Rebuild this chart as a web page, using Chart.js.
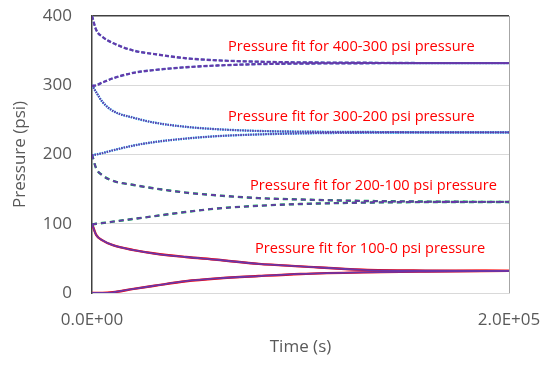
<!DOCTYPE html>
<html>
<head>
<meta charset="utf-8">
<script src="https://cdn.jsdelivr.net/npm/chart.js@4"></script>
<style>
  html, body { margin: 0; padding: 0; background: #fff; }
  #wrap { width: 556px; height: 367px; }
</style>
</head>
<body>
<div id="wrap"><canvas id="myChart"></canvas></div>
<script>
// time axis (s) and pressure curves (psi)
const timeS = [0, 2000, 5000, 10000, 20000, 30000, 45000, 60000, 80000, 100000, 130000, 160000, 200000];
const p400down = [400, 380, 370, 361, 350, 345, 339, 336, 334, 333, 332.5, 332, 332];
const p300up = [299, 300, 304, 310, 318, 322, 326, 328.5, 330.5, 331.3, 331.8, 332, 332];
const p300down = [300, 290, 276, 263, 253, 246, 240, 236.5, 234, 233, 232.5, 232, 232];
const p200up = [199, 200, 202, 206, 213, 218, 223, 226.5, 229, 230.5, 231.5, 232, 232];
const p200down = [200, 180, 170, 162, 156, 151, 145, 141, 137, 135, 133, 132, 131.5];
const p100up = [99, 100, 101, 103, 107, 111, 117, 122, 126, 128.5, 130.5, 131.3, 131.5];
const p100down = [100, 84, 76, 69, 62, 57, 52, 48, 42, 38.5, 33.5, 32.3, 32];
const p0up = [0, 0, 0, 1, 6, 10.5, 17, 21, 24.5, 27.5, 29.8, 31, 32];

const yTicks = [0, 100, 200, 300, 400];
const xTicks = [0, 200000];

// red labels: text, time where text starts, pressure at text middle
const fitLabels = ['Pressure fit for 400-300 psi pressure', 'Pressure fit for 300-200 psi pressure',
                   'Pressure fit for 200-100 psi pressure', 'Pressure fit for 100-0 psi pressure'];
const labelTime = [65200, 65200, 75800, 78200];
const labelPressure = [355, 254, 154.5, 63.5];

const pairs = [
    { curves: [p400down, p300up], color: '#4472C4', dash: [4, 2] },
    { curves: [p300down, p200up], color: '#00B0F0', dash: [1.5, 1] },
    { curves: [p200down, p100up], color: '#00B050', dash: [5, 4] },
    { curves: [p100down, p0up], color: '#FF0000', dash: [] }
];

function pts(arr) {
    return arr.map((v, i) => ({ x: timeS[i], y: v }));
}

var datasets = [];
pairs.forEach(function (p) {
    p.curves.forEach(function (c) {
        // measured (underneath)
        datasets.push({
            data: pts(c), borderColor: p.color, borderWidth: 2.4, borderDash: p.dash,
            pointRadius: 0, cubicInterpolationMode: 'monotone', fill: false, order: 2
        });
        // fit (on top)
        datasets.push({
            data: pts(c), borderColor: '#6A35A8', borderWidth: 1.8, borderDash: p.dash,
            pointRadius: 0, cubicInterpolationMode: 'monotone', fill: false, order: 1
        });
    });
});

function sci(v) {
    if (v === 0) return '0.0E+00';
    var e = Math.floor(Math.log10(Math.abs(v)));
    var m = v / Math.pow(10, e);
    return m.toFixed(1) + 'E' + (e < 0 ? '-' : '+') + String(Math.abs(e)).padStart(2, '0');
}

const labelPlugin = {
    id: 'fitLabels',
    afterDatasetsDraw(chart) {
        const c = chart.ctx;
        const xs = chart.scales.x, ys = chart.scales.y;
        c.save();
        c.font = '14.6px "Open Sans"';
        c.fillStyle = '#FF0000';
        c.textAlign = 'left';
        c.textBaseline = 'middle';
        fitLabels.forEach(function (t, i) {
            c.fillText(t, xs.getPixelForValue(labelTime[i]), ys.getPixelForValue(labelPressure[i]));
        });
        c.restore();
    }
};

var ctx = document.getElementById('myChart').getContext('2d');
var chart = new Chart(ctx, {
    type: 'line',
    data: { datasets: datasets },
    plugins: [labelPlugin],
    options: {
        responsive: true,
        maintainAspectRatio: false,
        animation: false,
        layout: { padding: { left: 0, right: 47, top: 16, bottom: 0 } },
        plugins: { legend: { display: false }, tooltip: { enabled: false } },
        scales: {
            x: {
                type: 'linear',
                min: 0, max: 200000,
                afterBuildTicks(scale) { scale.ticks = xTicks.map(v => ({ value: v })); },
                afterFit(scale) {
                    scale.height = 74;
                    scale.paddingLeft = 0;
                    scale.paddingRight = 0;
                },
                grid: {
                    drawTicks: false,
                    color: c => c.tick && c.tick.value === 200000 ? '#A6A6A6' : 'rgba(0,0,0,0)'
                },
                border: { display: true, color: '#D9D9D9' },
                ticks: {
                    padding: 17,
                    font: { family: 'Open Sans', size: 17 },
                    color: '#595959',
                    maxRotation: 0,
                    callback: v => sci(v)
                },
                title: {
                    display: true, text: 'Time (s)',
                    font: { family: 'Open Sans', size: 17 }, color: '#595959',
                    padding: { top: 4, bottom: 10 }
                }
            },
            y: {
                min: 0, max: 400,
                afterBuildTicks(scale) { scale.ticks = yTicks.map(v => ({ value: v })); },
                afterFit(scale) {
                    scale.width = 92;
                    scale.paddingTop = 0;
                    scale.paddingBottom = 0;
                },
                grid: {
                    drawTicks: false,
                    color: c => c.tick && c.tick.value === 400 ? '#404040' : '#D9D9D9',
                    lineWidth: c => c.tick && c.tick.value === 400 ? 1.5 : 1
                },
                border: { display: true, color: '#404040', width: 1.5 },
                ticks: {
                    padding: 20,
                    font: { family: 'Open Sans', size: 17 },
                    color: '#595959'
                },
                title: {
                    display: true, text: 'Pressure (psi)',
                    font: { family: 'Open Sans', size: 17 }, color: '#595959',
                    padding: { top: 10, bottom: 0 }
                }
            }
        }
    }
});
</script>
</body>
</html>
